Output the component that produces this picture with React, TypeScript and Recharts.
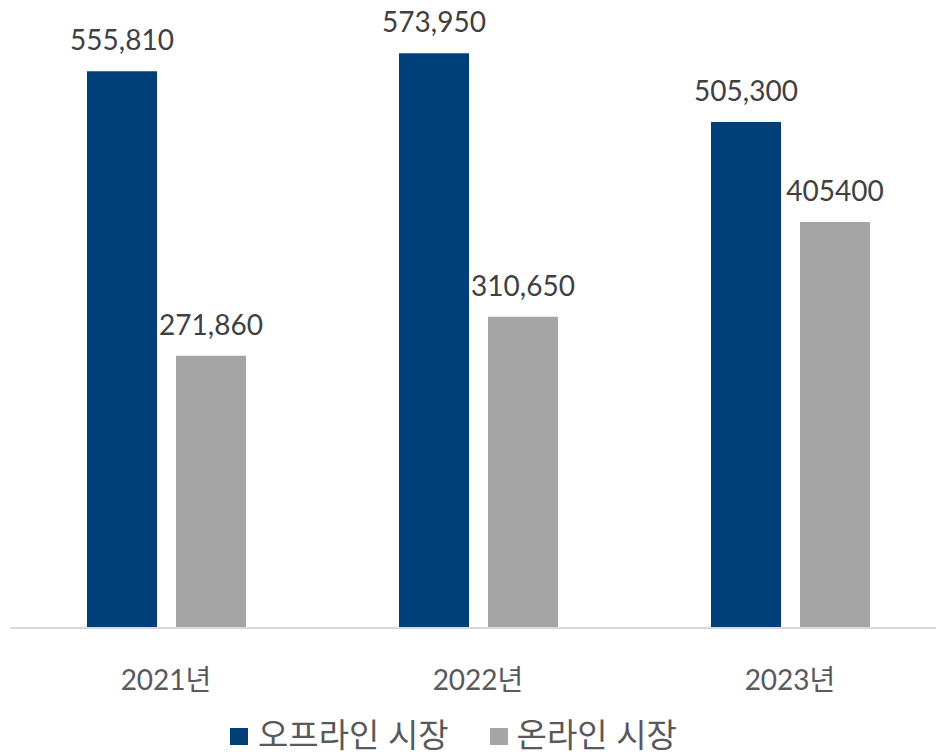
import { BarChart, Bar, XAxis, YAxis, LabelList } from 'recharts';

const years = ['2021년', '2022년', '2023년'];
const offline = [555810, 573950, 505300];
const online = [271860, 310650, 405400];
const offlineLabels = ['555,810', '573,950', '505,300'];
const onlineLabels = ['271,860', '310,650', '405400'];

const BLUE = '#00407A';
const GRAY = '#A5A5A5';
const FONT = "Lato, 'Noto Sans CJK KR', sans-serif";

const data = years.map((year, i) => ({
  year,
  offline: offline[i],
  online: online[i],
  offlineLabel: offlineLabels[i],
  onlineLabel: onlineLabels[i],
}));

export default function App() {
  return (
    <div style={{ position: 'absolute', left: 0, top: 0, width: 936, height: 754, overflow: 'hidden', background: '#fff', fontFamily: FONT }}>
      <BarChart
        width={946}
        height={754}
        data={data}
        margin={{ top: 0, right: 0, left: 10, bottom: 0 }}
        barSize={70}
        barGap={19}
      >
        <XAxis
          dataKey="year"
          height={126}
          axisLine={{ stroke: '#D9D9D9', strokeWidth: 2 }}
          tickLine={false}
          tickSize={0}
          tickMargin={42}
          tick={{ fill: '#595959', fontSize: 28, fontFamily: FONT }}
        />
        <YAxis hide domain={[0, 627000]} />
        <Bar dataKey="offline" fill={BLUE} isAnimationActive={false}>
          <LabelList dataKey="offlineLabel" position="top" offset={21} fill="#404040" fontSize={28} fontFamily={FONT} />
        </Bar>
        <Bar dataKey="online" fill={GRAY} isAnimationActive={false}>
          <LabelList dataKey="onlineLabel" position="top" offset={21} fill="#404040" fontSize={28} fontFamily={FONT} />
        </Bar>
      </BarChart>
      <div style={{ position: 'absolute', top: 718, left: 230, height: 32, display: 'flex', alignItems: 'center', fontSize: 33, lineHeight: '32px', color: '#595959', fontFamily: FONT, whiteSpace: 'nowrap' }}>
        <span style={{ display: 'inline-block', width: 18, height: 17, background: BLUE, marginRight: 10, marginTop: 4 }} />
        <span>오프라인 시장</span>
        <span style={{ display: 'inline-block', width: 18, height: 17, background: GRAY, marginRight: 9, marginLeft: 41, marginTop: 4 }} />
        <span>온라인 시장</span>
      </div>
    </div>
  );
}
